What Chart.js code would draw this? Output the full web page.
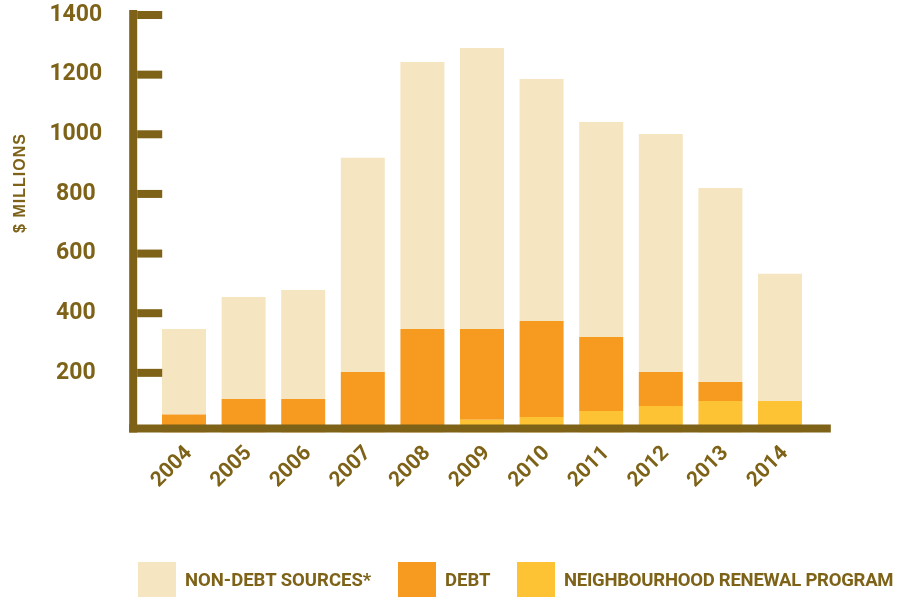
<!DOCTYPE html>
<html lang="en">
<head>
<meta charset="utf-8">
<title>Funding sources 2004-2014</title>
<script src="https://cdn.jsdelivr.net/npm/chart.js@4.4.1/dist/chart.umd.min.js"></script>
<style>
    html, body { margin: 0; padding: 0; background: #ffffff; }
    .wrap { position: relative; width: 901px; height: 597px; overflow: hidden; }
    #funding-chart { position: absolute; left: 0; top: 0; }
    /* Chú thích vẽ bằng HTML để đặt đúng vị trí */
    .legend-item {
        position: absolute; top: 562px;
        display: flex; align-items: center;
        font: bold 18.5px Roboto, 'Liberation Sans', sans-serif;
        color: #7d6218; white-space: nowrap;
    }
    .legend-item.i0 { left: 138px; }
    .legend-item.i1 { left: 398px; }
    .legend-item.i2 { left: 517px; letter-spacing: -0.25px; }
    .legend-box { width: 38px; height: 35px; margin-right: 9px; }
</style>
</head>
<body>
<div class="wrap">
    <canvas id="funding-chart" width="901" height="597"></canvas>
    <div id="legend"></div>
</div>
<script>
// ==== DATA ====
const years = ['2004', '2005', '2006', '2007', '2008', '2009', '2010', '2011', '2012', '2013', '2014'];
const nrpValues     = [0, 0, 0, 0, 0, 43, 52, 72, 89, 106, 106];
const debtValues    = [60, 112, 112, 203, 347, 304, 322, 248, 114, 63, 0];
const nonDebtValues = [287, 342, 366, 718, 895, 942, 811, 721, 798, 651, 426];
const yTickValues   = [200, 400, 600, 800, 1000, 1200, 1400];
const seriesNames   = ['NON-DEBT SOURCES*', 'DEBT', 'NEIGHBOURHOOD RENEWAL PROGRAM'];
const yTitle        = '$ MILLIONS';

// ==== STYLE ====
const AXIS_COLOR = '#7d6218';
const COLORS = { nonDebt: '#f5e5c1', debt: '#f79b20', nrp: '#fec335' };
const FONT = "Roboto, 'Liberation Sans', sans-serif";

document.addEventListener('DOMContentLoaded', () => {

    // Plugin vẽ trục dày, vạch chia và tiêu đề trục Y
    const axisDecor = {
        id: 'axisDecor',
        afterDatasetsDraw(chart) {
            const { ctx, chartArea, scales: { y } } = chart;
            const x0 = chartArea.left - 25;
            const zero = y.getPixelForValue(0);
            const top = y.getPixelForValue(y.max) - 5;
            ctx.save();
            ctx.fillStyle = AXIS_COLOR;
            ctx.fillRect(x0, top, 8, zero - top);
            ctx.fillRect(x0, zero - 8, chartArea.right + 21 - x0, 8);
            yTickValues.forEach(v => {
                const py = y.getPixelForValue(v);
                ctx.fillRect(x0 + 8, py - 4, 25, 8);
            });
            // tiêu đề trục
            ctx.translate(24.5, 183);
            ctx.rotate(-Math.PI / 2);
            ctx.font = "bold 16px 'Liberation Sans', Arial, sans-serif";
            if ('letterSpacing' in ctx) ctx.letterSpacing = '1px';
            ctx.textAlign = 'center';
            ctx.textBaseline = 'alphabetic';
            ctx.fillText(yTitle, 0, 0);
            ctx.restore();
        }
    };

    const ctx = document.getElementById('funding-chart').getContext('2d');
    new Chart(ctx, {
        type: 'bar',
        data: {
            labels: years,
            datasets: [
                { label: seriesNames[2], data: nrpValues, backgroundColor: COLORS.nrp },
                { label: seriesNames[1], data: debtValues, backgroundColor: COLORS.debt },
                { label: seriesNames[0], data: nonDebtValues, backgroundColor: COLORS.nonDebt }
            ]
        },
        options: {
            responsive: false,
            animation: false,
            layout: { padding: { left: 0, right: 91.2, top: 15, bottom: 0 } },
            datasets: { bar: { categoryPercentage: 1, barPercentage: 0.738 } },
            plugins: { legend: { display: false }, tooltip: { enabled: false } },
            scales: {
                x: {
                    stacked: true,
                    grid: { display: false, drawTicks: false },
                    border: { display: false },
                    ticks: {
                        color: AXIS_COLOR,
                        font: { family: FONT, size: 21, weight: 'bold', lineHeight: 1 },
                        minRotation: 45, maxRotation: 45,
                        autoSkip: false,
                        padding: 10,
                        labelOffset: 5
                    },
                    afterFit: (scale) => { scale.height = 164.5; }
                },
                y: {
                    stacked: true,
                    min: 0, max: 1400,
                    grid: { display: false, drawTicks: false },
                    border: { display: false },
                    ticks: {
                        color: AXIS_COLOR,
                        font: { family: FONT, size: 23, weight: 'bold', lineHeight: 1 },
                        crossAlign: 'center',
                        padding: 52,
                        callback: (v) => String(v)
                    },
                    afterBuildTicks: (scale) => { scale.ticks = yTickValues.map(v => ({ value: v })); },
                    afterFit: (scale) => {
                        scale.width = 154.2;
                        // bỏ phần đệm dọc do ticks.padding gây ra
                        scale.paddingTop = 12;
                        scale.paddingBottom = 12;
                    }
                }
            }
        },
        plugins: [axisDecor]
    });

    // Chú thích
    const legendEl = document.getElementById('legend');
    const legendColors = [COLORS.nonDebt, COLORS.debt, COLORS.nrp];
    seriesNames.forEach((name, i) => {
        legendEl.insertAdjacentHTML('beforeend',
            `<div class="legend-item i${i}"><span class="legend-box" style="background:${legendColors[i]}"></span><span>${name}</span></div>`);
    });
});
</script>
</body>
</html>
